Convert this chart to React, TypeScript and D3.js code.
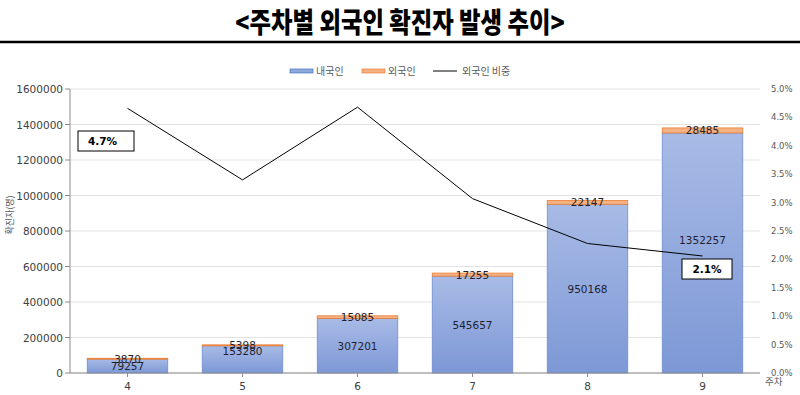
import * as d3 from 'd3';

const weeks = ['4', '5', '6', '7', '8', '9'];
const domestic = [79257, 153280, 307201, 545657, 950168, 1352257];
const foreign = [3870, 5398, 15085, 17255, 22147, 28485];
const foreignShare = [4.66, 3.40, 4.68, 3.07, 2.28, 2.06];
const leftTicks = [0, 200000, 400000, 600000, 800000, 1000000, 1200000, 1400000, 1600000];
const rightTicks = [0, 0.5, 1, 1.5, 2, 2.5, 3, 3.5, 4, 4.5, 5];

const W = 800;
const H = 395;
const margin = { top: 89, right: 40, bottom: 22, left: 70 };
const font = '"DejaVu Sans", Verdana, sans-serif';

export default function App() {
    const x = d3.scaleBand<string>()
        .domain(weeks)
        .range([margin.left, W - margin.right])
        .paddingInner(0.3)
        .paddingOuter(0.15);
    const y = d3.scaleLinear().domain([0, 1600000]).range([H - margin.bottom, margin.top]);
    const yr = d3.scaleLinear().domain([0, 5]).range([H - margin.bottom, margin.top]);

    const line = d3.line<number>()
        .x((_, i) => (x(weeks[i]) as number) + x.bandwidth() / 2)
        .y(d => yr(d));

    const bottom = H - margin.bottom;
    const cx = (i: number) => (x(weeks[i]) as number) + x.bandwidth() / 2;

    return (
        <svg width={W} height={H} style={{ position: 'absolute', left: 0, top: 0, background: '#fff' }}>
            <defs>
                <linearGradient id="blue" x1="0" y1="0" x2="0" y2="1">
                    <stop offset="0%" stopColor="#a8bbe6" />
                    <stop offset="100%" stopColor="#7d98d6" />
                </linearGradient>
            </defs>
            <rect width={W} height={H} fill="#fff" />

            {/* title */}
            <text x={400} y={33} textAnchor="middle" fontFamily='"Noto Sans CJK KR", sans-serif'
                fontWeight={900} fontSize={28} transform="translate(400,0) scale(0.835,1) translate(-400,0)" fill="#000">
                &lt;주차별 외국인 확진자 발생 추이&gt;
            </text>
            <line x1={0} x2={W} y1={42} y2={42} stroke="#000" strokeWidth={2.5} />

            {/* legend */}
            <g fontFamily='"Noto Sans CJK KR", sans-serif' fontSize={10} fill="#595959">
                <rect x={290} y={69} width={23} height={4} fill="#8ea9db" stroke="#4472c4" strokeWidth={0.7} />
                <text x={316} y={75}>내국인</text>
                <rect x={362} y={69} width={23} height={4} fill="#f4b183" stroke="#ed7d31" strokeWidth={0.7} />
                <text x={388} y={75}>외국인</text>
                <line x1={433} x2={457} y1={71} y2={71} stroke="#000" strokeWidth={1} />
                <text x={462} y={75}>외국인 비중</text>
            </g>

            {/* grid */}
            {leftTicks.map(t => (
                <line key={'g' + t} x1={margin.left} x2={W - margin.right} y1={y(t)} y2={y(t)} stroke="#e3e3e3" />
            ))}

            {/* left axis */}
            <line x1={margin.left} x2={margin.left} y1={margin.top} y2={bottom} stroke="#8c8c8c" />
            {leftTicks.map(t => (
                <g key={'l' + t}>
                    <line x1={margin.left - 5} x2={margin.left} y1={y(t)} y2={y(t)} stroke="#8c8c8c" />
                    <text x={margin.left - 7} y={y(t) + 4} textAnchor="end" fontFamily={font} fontSize={10.5} fill="#404040">{t}</text>
                </g>
            ))}
            <text transform={`translate(13,${215}) rotate(-90)`} textAnchor="middle"
                fontFamily='"Noto Sans CJK KR", sans-serif' fontSize={9} fill="#595959">확진자(명)</text>

            {/* right axis */}
            {rightTicks.map(t => (
                <text key={'r' + t} x={771} y={yr(t) + 3} fontFamily={font} fontSize={8.5} fill="#595959">{t.toFixed(1)}%</text>
            ))}

            {/* bars */}
            {weeks.map((w, i) => {
                const bx = x(w) as number;
                const bw = x.bandwidth();
                const d0 = y(domestic[i]);
                const f0 = y(domestic[i] + foreign[i]);
                return (
                    <g key={'b' + w}>
                        <rect x={bx} y={d0} width={bw} height={bottom - d0} fill="url(#blue)" stroke="#6f8ccf" strokeWidth={0.8} />
                        <rect x={bx} y={f0} width={bw} height={Math.max(d0 - f0, 1)} fill="#f4b183" stroke="#ed7d31" strokeWidth={0.8} />
                    </g>
                );
            })}

            {/* bottom axis */}
            <line x1={margin.left} x2={W - margin.right} y1={bottom} y2={bottom} stroke="#8c8c8c" />
            {weeks.map((w, i) => (
                <g key={'x' + w}>
                    <line x1={cx(i)} x2={cx(i)} y1={bottom} y2={bottom + 4} stroke="#8c8c8c" />
                    <text x={cx(i)} y={bottom + 17} textAnchor="middle" fontFamily={font} fontSize={10.5} fill="#404040">{w}</text>
                </g>
            ))}
            <text x={765} y={385} fontFamily='"Noto Sans CJK KR", sans-serif' fontSize={9.5} fill="#595959">주차</text>

            {/* bar labels */}
            {weeks.map((w, i) => {
                const d0 = y(domestic[i]);
                const f0 = y(domestic[i] + foreign[i]);
                const dy = i === weeks.length - 1 ? -13 : i === 1 ? -8 : 0;
                return (
                    <g key={'t' + w} fontFamily={font} fontSize={10.5} fill="#1f1f30" textAnchor="middle">
                        <text x={cx(i)} y={(d0 + bottom) / 2 + 4 + dy}>{domestic[i]}</text>
                        <text x={cx(i)} y={(d0 + f0) / 2 + 4}>{foreign[i]}</text>
                    </g>
                );
            })}

            {/* share line */}
            <path d={line(foreignShare) as string} fill="none" stroke="#000" strokeWidth={1} />

            {/* callouts */}
            <rect x={78} y={131} width={56} height={20} fill="#fff" stroke="#000" strokeWidth={1} />
            <text x={88} y={145} fontFamily={font} fontWeight={700} fontSize={10.5} fill="#000">4.7%</text>
            <rect x={682} y={259} width={50} height={20} fill="#fff" stroke="#000" strokeWidth={1} />
            <text x={707} y={273} textAnchor="middle" fontFamily={font} fontWeight={700} fontSize={10.5} fill="#000">2.1%</text>
        </svg>
    );
}
